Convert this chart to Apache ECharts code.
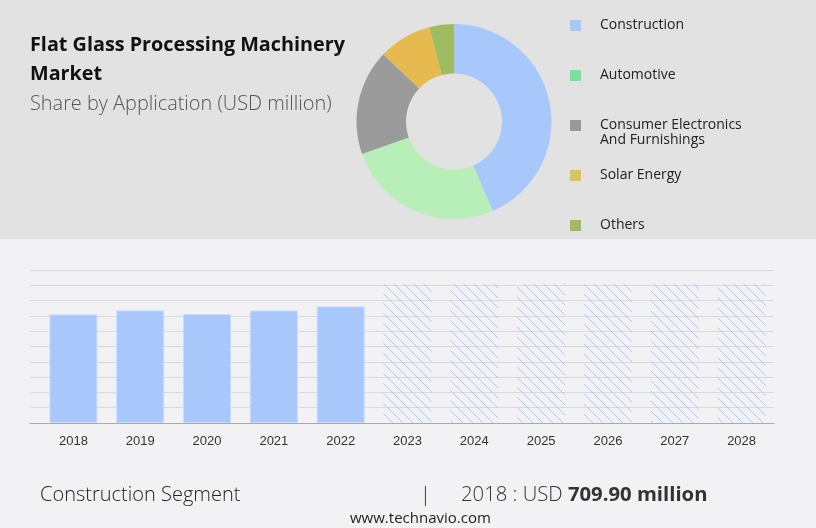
<!DOCTYPE html>
<html><head><meta charset="utf-8">
<script src="https://cdn.jsdelivr.net/npm/echarts@6/dist/echarts.min.js"></script>
<style>
html,body{margin:0;padding:0;}
#c{width:816px;height:528px;background:linear-gradient(to bottom,#e2e2e2 0,#e2e2e2 239px,#f2f2f4 239px,#f2f2f4 100%);}
</style>
</head><body><div id="c"></div>
<script>
// ---- data ----
const years = ['2018','2019','2020','2021','2022','2023','2024','2025','2026','2027','2028'];
const actualValues = [709.9, 736, 712, 735, 762, null, null, null, null, null, null];
const forecastValues = [null, null, null, null, null, 910, 910, 910, 910, 910, 910];
const segments = ['Construction', 'Automotive', 'Consumer Electronics\nAnd Furnishings', 'Solar Energy', 'Others'];
const shares = [43.5, 26.1, 17.5, 8.8, 4.1];
const pieColors = ['#a8c8fc', '#b8efb8', '#9b9b9b', '#e7ba50', '#a0bc60'];
const legendColors = ['#a8c8fc', '#77e39b', '#999999', '#dcc45a', '#9fbc5f'];
const axisMin = 0, axisMax = 1000, axisInterval = 100;

function hatch() {
  const c = document.createElement('canvas');
  c.width = 10; c.height = 10;
  const g = c.getContext('2d');
  g.strokeStyle = '#a8c8fc'; g.lineWidth = 1;
  g.beginPath();
  g.moveTo(0, 0); g.lineTo(10, 10);
  g.moveTo(-2, 8); g.lineTo(2, 12);
  g.moveTo(8, -2); g.lineTo(12, 2);
  g.stroke();
  return c;
}

const legendTops = [18, 68, 103, 168, 218];
const legends = segments.map((s, i) => ({
  data: [{ name: s, itemStyle: { color: legendColors[i] } }],
  left: 570, top: legendTops[i], orient: 'vertical', padding: 0,
  itemWidth: 11, itemHeight: 11, icon: 'rect', selectedMode: false,
  formatter: i === 2 ? (n => '\n' + n) : (n => n),
  textStyle: {
    fontFamily: 'Open Sans', fontSize: 14, color: '#222', lineHeight: 15,
    padding: [0, 0, 0, 14]
  }
}));

const chart = echarts.init(document.getElementById('c'));
chart.setOption({
  backgroundColor: 'transparent',
  animation: false,
  title: [
    { text: 'Flat Glass Processing Machinery\nMarket', left: 30, top: 31, padding: 0,
      textStyle: { fontFamily: 'Open Sans', fontWeight: 'bold', fontSize: 19.8, color: '#111', lineHeight: 29 } },
    { text: 'Share by Application (USD million)', left: 30, top: 94, padding: 0,
      textStyle: { fontFamily: 'Open Sans', fontWeight: 300, fontSize: 19.9, color: '#555' } },
    { text: 'Construction Segment', left: 40, top: 485, padding: 0,
      textStyle: { fontFamily: 'Open Sans', fontWeight: 300, fontSize: 20, color: '#222' } },
    { text: '|', left: 420, top: 485, padding: 0,
      textStyle: { fontFamily: 'Open Sans', fontWeight: 300, fontSize: 20, color: '#222' } },
    { text: '{a|2018 : USD }{b|709.90 million}', left: 461, top: 485, padding: 0,
      textStyle: { rich: {
        a: { fontFamily: 'Open Sans', fontWeight: 300, fontSize: 20.3, color: '#333' },
        b: { fontFamily: 'Open Sans', fontWeight: 'bold', fontSize: 20.3, color: '#333' } } } },
    { text: 'www.technavio.com', left: 350, top: 511, padding: 0,
      textStyle: { fontFamily: 'Open Sans', fontWeight: 'normal', fontSize: 15, color: '#222' } }
  ],
  legend: legends,
  grid: [
    { left: 30, right: 42, top: 270, bottom: 105 },
    { left: 40, right: 41, top: 270, bottom: 105 }
  ],
  xAxis: [
    { gridIndex: 0, type: 'category', data: years, axisLabel: { show: false }, axisTick: { show: false },
      axisLine: { lineStyle: { color: '#aaaaaa', width: 1 } } },
    { gridIndex: 1, type: 'category', data: years, axisTick: { show: false }, axisLine: { show: false },
      axisLabel: { margin: 12, fontFamily: 'Liberation Sans', fontSize: 13, color: '#333' } }
  ],
  yAxis: [
    { gridIndex: 0, type: 'value', min: axisMin, max: axisMax, interval: axisInterval,
      axisLabel: { show: false }, axisLine: { show: false }, axisTick: { show: false },
      splitLine: { lineStyle: { color: '#d9d9db', width: 1 } } },
    { gridIndex: 1, type: 'value', min: axisMin, max: axisMax, interval: axisInterval,
      axisLabel: { show: false }, axisLine: { show: false }, axisTick: { show: false },
      splitLine: { show: false } }
  ],
  series: [
    { type: 'bar', xAxisIndex: 1, yAxisIndex: 1, data: actualValues, barWidth: 48, barGap: '-100%',
      itemStyle: { color: '#a8c8fc', borderColor: '#c8dbfd', borderWidth: 1 } },
    { type: 'bar', xAxisIndex: 1, yAxisIndex: 1, data: forecastValues, barWidth: 48, barGap: '-100%',
      itemStyle: { color: { image: hatch(), repeat: 'repeat' } } },
    { type: 'pie', center: [454, 121.5], radius: [48, 97.5], startAngle: 90, clockwise: true,
      label: { show: false }, labelLine: { show: false }, silent: true,
      data: segments.map((s, i) => ({ name: s, value: shares[i], itemStyle: { color: pieColors[i] } })) }
  ]
});
</script></body></html>
